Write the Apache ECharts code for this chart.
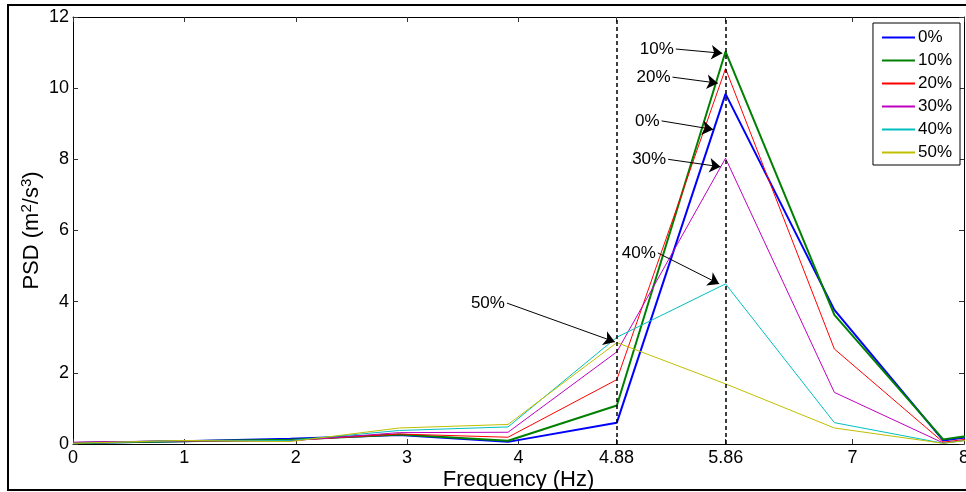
<!DOCTYPE html>
<html>
<head>
<meta charset="utf-8">
<script src="https://cdn.jsdelivr.net/npm/echarts@6/dist/echarts.min.js"></script>
<style>
  html, body { margin: 0; padding: 0; background: #fff; }
  #wrap { position: relative; width: 966px; height: 492px; overflow: hidden; }
  #frame {
    position: absolute; left: 7px; top: 4px; width: 980px; height: 487px;
    border: 2px solid #000; box-sizing: border-box; pointer-events: none;
  }
  #chart { position: absolute; left: 0; top: 0; width: 966px; height: 492px; }
</style>
</head>
<body>
<div id="wrap">
  <div id="chart"></div>
  <div id="frame"></div>
</div>
<script>
// frequency bins (Hz)
const freq = [0, 0.977, 1.953, 2.930, 3.906, 4.883, 5.859, 6.836, 7.813, 8.789];

// PSD per case
const psd0 = [0.03, 0.08, 0.15, 0.25, 0.06, 0.60, 9.84, 3.77, 0.10, 0.50];
const psd10 = [0.03, 0.08, 0.12, 0.27, 0.09, 1.08, 11.03, 3.63, 0.13, 0.55];
const psd20 = [0.04, 0.08, 0.10, 0.28, 0.19, 1.81, 10.55, 2.67, 0.05, 0.45];
const psd30 = [0.05, 0.09, 0.09, 0.32, 0.33, 2.59, 8.03, 1.45, 0.03, 0.40];
const psd40 = [0.02, 0.09, 0.10, 0.38, 0.48, 3.00, 4.50, 0.60, 0.02, 0.40];
const psd50 = [0.02, 0.10, 0.07, 0.45, 0.55, 2.85, 1.69, 0.45, 0.02, 0.40];

const names = ["0%", "10%", "20%", "30%", "40%", "50%"];
const colors = ["#0000ff", "#008000", "#ff0000", "#bf00bf", "#00bfbf", "#bfbf00"];
const widths = [2, 2, 1, 1, 1, 1];
const allPsd = [psd0, psd10, psd20, psd30, psd40, psd50];

// x tick labels
const xTicks = [0, 1, 2, 3, 4, 4.88, 5.86, 7, 8];
const peakLines = [4.883, 5.859];

// arrow annotations (data coords)
const annText = ["10%", "20%", "0%", "30%", "40%", "50%"];
const annFrom = [[5.413, 11.10], [5.383, 10.31], [5.285, 9.08], [5.344, 8.00], [5.251, 5.37], [3.896, 3.96]];
const annTo = [[5.83, 10.98], [5.79, 10.14], [5.748, 8.84], [5.814, 7.79], [5.802, 4.50], [4.865, 2.87]];

const chart = echarts.init(document.getElementById("chart"));
const font = "Liberation Sans, Arial, sans-serif";

let series = allPsd.map((vals, i) => ({
  name: names[i],
  type: "line",
  data: freq.map((f, j) => [f, vals[j]]),
  symbol: "none",
  color: colors[i],
  lineStyle: { width: widths[i], color: colors[i] },
  z: 3,
}));

// dashed peak lines
series.push({
  name: "peaks",
  type: "line",
  data: [],
  silent: true,
  markLine: {
    silent: true,
    animation: false,
    symbol: "none",
    label: { show: false },
    lineStyle: { color: "#000", type: [4, 3], width: 1.5 },
    data: peakLines.map((x) => ({ xAxis: x })),
  },
  z: 4,
});
// arrows
series.push({
  name: "arrows",
  type: "line",
  data: [],
  silent: true,
  markLine: {
    silent: true,
    animation: false,
    symbol: ["none", "arrow"],
    symbolSize: 11,
    label: { show: false },
    lineStyle: { color: "#000", type: "solid", width: 1 },
    itemStyle: { color: "#000" },
    data: annFrom.map((p, i) => [
      { coord: p, symbol: "none" },
      { coord: annTo[i], symbol: "arrow", symbolSize: 11, itemStyle: { color: "#000" } },
    ]),
  },
  z: 5,
});
series.push({
  name: "annText",
  type: "scatter",
  data: annFrom.map((p, i) => ({ value: p, name: annText[i] })),
  symbolSize: 0,
  silent: true,
  label: {
    show: true,
    position: "left",
    distance: 2,
    formatter: (p) => p.name,
    color: "#000",
    opacity: 1,
    fontSize: 17,
    fontFamily: font,
  },
  z: 6,
});

const option = {
  animation: false,
  grid: { left: 73, right: 2, top: 17, bottom: 48, outerBoundsMode: "none", containLabel: false },
  legend: {
    data: names,
    orient: "vertical",
    right: 6,
    top: 23,
    itemWidth: 33,
    itemHeight: 12,
    itemGap: 6,
    padding: [6, 8, 4, 8],
    borderColor: "#000",
    borderWidth: 1,
    backgroundColor: "#fff",
    itemStyle: { opacity: 0 },
    textStyle: { fontSize: 17, lineHeight: 17, color: "#000", fontFamily: font, padding: [0, 0, 0, -2] },
  },
  xAxis: [
    {
      type: "value",
      min: 0,
      max: 8,
      name: "Frequency (Hz)",
      nameLocation: "middle",
      nameGap: 25,
      nameMoveOverlap: false,
      nameTextStyle: { fontSize: 22, color: "#000", fontFamily: font },
      axisLine: { lineStyle: { color: "#000", width: 1 } },
      axisTick: { inside: true, length: 5, customValues: xTicks, lineStyle: { color: "#333" } },
      axisLabel: { customValues: xTicks, formatter: (v) => String(v), fontSize: 18, color: "#000", fontFamily: font, margin: 5 },
      splitLine: { show: false },
    },
    {
      type: "value",
      position: "top",
      min: 0,
      max: 8,
      axisLine: { show: true, onZero: false, lineStyle: { color: "#000", width: 1 } },
      axisTick: { inside: true, length: 5, customValues: xTicks, lineStyle: { color: "#333" } },
      axisLabel: { show: false },
      splitLine: { show: false },
    },
  ],
  yAxis: [
    {
      type: "value",
      min: 0,
      max: 12,
      interval: 2,
      name: "PSD (m{sup|2}/s{sup|3})",
      nameLocation: "middle",
      nameGap: 29,
      nameMoveOverlap: false,
      nameTextStyle: {
        fontSize: 22,
        color: "#000",
        fontFamily: font,
        rich: { sup: { fontSize: 15, verticalAlign: "top", padding: [0, 0, 10, 0], fontFamily: font, color: "#000" } },
      },
      axisLine: { show: true, lineStyle: { color: "#000", width: 1 } },
      axisTick: { inside: true, length: 5, lineStyle: { color: "#333" } },
      axisLabel: { fontSize: 18, color: "#000", fontFamily: font, margin: 4 },
      splitLine: { show: false },
    },
    {
      type: "value",
      position: "right",
      min: 0,
      max: 12,
      interval: 2,
      axisLine: { show: true, onZero: false, lineStyle: { color: "#000", width: 1 } },
      axisTick: { inside: true, length: 5, lineStyle: { color: "#333" } },
      axisLabel: { show: false },
      splitLine: { show: false },
    },
  ],
  series,
};

chart.setOption(option);
</script>
</body>
</html>
